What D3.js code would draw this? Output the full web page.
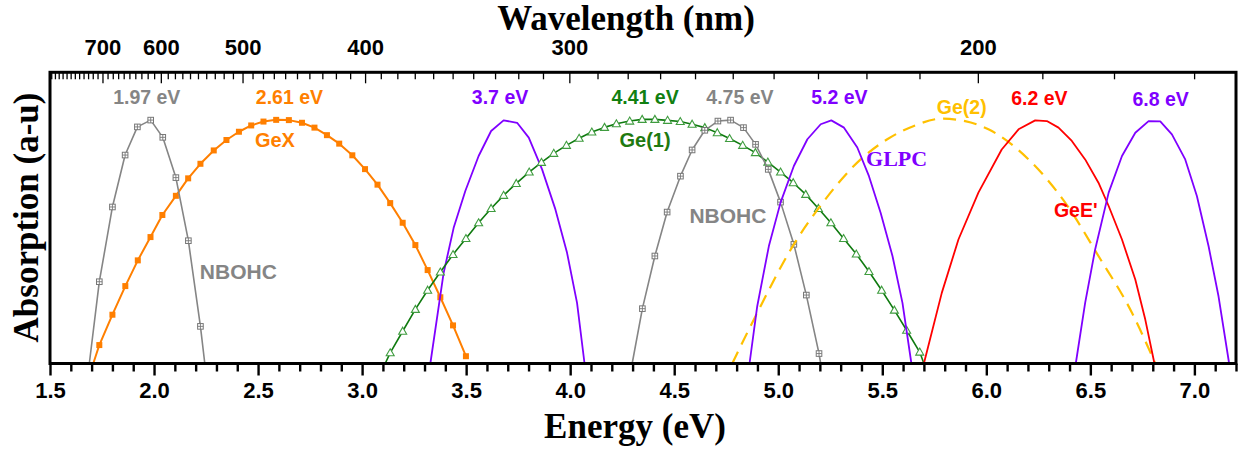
<!DOCTYPE html>
<html>
<head>
<meta charset="utf-8">
<script src="https://cdn.jsdelivr.net/npm/d3@7"></script>
<style>
  html, body { margin: 0; padding: 0; background: #fff; }
  svg { display: block; }
</style>
</head>
<body>
<svg id="chart" width="1241" height="450"></svg>
<script>
// ---------------- DATA ----------------
const energyDomain = [1.5, 7.2];
const absorbDomain = [0, 1.2];
const energyMajorTicks = [1.5, 2.0, 2.5, 3.0, 3.5, 4.0, 4.5, 5.0, 5.5, 6.0, 6.5, 7.0];
const wavelengthDomain = [823.4, 165.2];
const wavelengthMajorTicks = [700, 600, 500, 400, 300, 200];

// [energy (eV), absorption (a.u.)]
const nbohc197 = [[1.689,0],[1.737,0.337],[1.800,0.645],[1.861,0.859],[1.920,0.975],[1.984,1.003],[2.042,0.932],[2.105,0.766],[2.165,0.506],[2.223,0.153],[2.244,0]];
const gex261 = [[1.708,0],[1.737,0.076],[1.800,0.201],[1.862,0.319],[1.922,0.425],[1.983,0.521],[2.040,0.612],[2.105,0.691],[2.164,0.763],[2.223,0.823],[2.287,0.878],[2.348,0.921],[2.408,0.955],[2.467,0.981],[2.526,0.997],[2.587,1.004],[2.648,1.003],[2.711,0.992],[2.771,0.972],[2.831,0.941],[2.890,0.906],[2.953,0.858],[3.014,0.801],[3.074,0.737],[3.135,0.661],[3.195,0.580],[3.256,0.488],[3.315,0.385],[3.376,0.273],[3.437,0.157],[3.499,0.030]];
const glpc37 = [[3.328,0],[3.392,0.374],[3.440,0.559],[3.496,0.711],[3.560,0.855],[3.620,0.958],[3.680,1.002],[3.745,0.992],[3.801,0.931],[3.865,0.800],[3.929,0.635],[3.985,0.456],[4.033,0.250],[4.069,0]];
const ge1_441 = [[3.111,0],[3.135,0.044],[3.195,0.133],[3.256,0.223],[3.315,0.302],[3.376,0.377],[3.437,0.449],[3.499,0.515],[3.560,0.580],[3.620,0.639],[3.680,0.693],[3.741,0.742],[3.803,0.789],[3.862,0.829],[3.921,0.866],[3.982,0.899],[4.043,0.928],[4.104,0.954],[4.165,0.973],[4.222,0.988],[4.286,0.999],[4.346,1.006],[4.407,1.006],[4.468,1.002],[4.529,0.997],[4.586,0.986],[4.647,0.972],[4.707,0.951],[4.766,0.927],[4.829,0.899],[4.890,0.869],[4.950,0.830],[5.011,0.789],[5.072,0.745],[5.132,0.697],[5.193,0.639],[5.253,0.580],[5.314,0.515],[5.375,0.451],[5.436,0.379],[5.497,0.302],[5.558,0.220],[5.617,0.137],[5.680,0.047],[5.700,0]];
const nbohc475 = [[4.298,0],[4.347,0.226],[4.407,0.443],[4.466,0.624],[4.530,0.772],[4.586,0.880],[4.647,0.961],[4.710,0.999],[4.771,1.003],[4.833,0.972],[4.891,0.903],[4.952,0.800],[5.011,0.665],[5.075,0.491],[5.135,0.282],[5.196,0.041],[5.204,0]];
const glpc52 = [[4.862,0],[4.899,0.236],[4.955,0.484],[5.011,0.663],[5.075,0.814],[5.140,0.924],[5.204,0.986],[5.255,1.002],[5.316,0.972],[5.380,0.890],[5.436,0.772],[5.492,0.621],[5.549,0.443],[5.597,0.250],[5.640,0]];
const ge2 = [[4.779,0],[4.899,0.209],[5.075,0.491],[5.196,0.642],[5.396,0.841],[5.524,0.924],[5.652,0.979],[5.786,1.009],[5.898,0.999],[6.010,0.965],[6.203,0.841],[6.379,0.663],[6.539,0.443],[6.700,0.209],[6.812,0]];
const geE62 = [[5.700,0],[5.786,0.291],[5.866,0.511],[5.962,0.704],[6.074,0.882],[6.155,0.965],[6.235,1.002],[6.291,0.999],[6.347,0.972],[6.411,0.917],[6.475,0.841],[6.539,0.745],[6.588,0.649],[6.652,0.511],[6.716,0.346],[6.764,0.181],[6.808,0]];
const glpc68 = [[6.430,0],[6.475,0.250],[6.523,0.470],[6.588,0.704],[6.652,0.855],[6.716,0.951],[6.780,0.999],[6.836,0.998],[6.892,0.944],[6.956,0.841],[7.012,0.690],[7.068,0.484],[7.116,0.277],[7.167,0]];

// label texts with anchor points in data units [energy, absorption]
const labelTexts = ["1.97 eV","2.61 eV","GeX","NBOHC","3.7 eV","4.41 eV","Ge(1)","4.75 eV","NBOHC","5.2 eV","GLPC","Ge(2)","6.2 eV","GeE'","6.8 eV"];
const labelAt = [[1.965,1.099],[2.651,1.099],[2.581,0.921],[2.405,0.378],[3.663,1.097],[4.360,1.098],[4.360,0.921],[4.816,1.099],[4.758,0.609],[5.294,1.097],[5.569,0.846],[5.882,1.058],[6.255,1.093],[6.430,0.633],[6.838,1.089]];

// ---------------- STYLE ----------------
const W = 1241, H = 450;
const plot = {left: 50, right: 1236, top: 72.3, bottom: 363.5};
const C = {gray: "#858585", grayMk: "#777777", orange: "#ff7f00", purple: "#7f00ff",
           green: "#0f7a0f", greenMk: "#3f9c3f", red: "#ff0000", yellow: "#ffc000",
           darkGreen: "#118011"};
const labelStyle = [
  {c: C.gray, f: "sans", s: 19.5}, {c: C.orange, f: "sans", s: 19.5}, {c: C.orange, f: "sans", s: 20},
  {c: C.gray, f: "sans", s: 21}, {c: C.purple, f: "sans", s: 19.5}, {c: C.darkGreen, f: "sans", s: 19.5},
  {c: "#1f7a10", f: "sans", s: 20}, {c: C.gray, f: "sans", s: 19.5}, {c: C.gray, f: "sans", s: 21},
  {c: C.purple, f: "sans", s: 19.5}, {c: C.purple, f: "serif", s: 22}, {c: C.yellow, f: "sans", s: 19.5},
  {c: C.red, f: "sans", s: 19.5}, {c: C.red, f: "sans", s: 19.5}, {c: C.purple, f: "sans", s: 19.5}
];
const SANS = "'Liberation Sans', Arial, Helvetica, sans-serif";
const SERIF = "'Liberation Serif', 'Times New Roman', serif";

const svg = d3.select("#chart");
const x = d3.scaleLinear().domain(energyDomain).range([plot.left, plot.right]);
const y = d3.scaleLinear().domain(absorbDomain).range([plot.bottom, plot.top]);
const xTop = d3.scaleLinear().domain(wavelengthDomain.map(w => 1 / w)).range([plot.left, plot.right]);

// ---------------- SERIES ----------------
const series = [
  {data: gex261, color: C.orange, width: 2, marker: "fsquare", mk: C.orange},
  {data: nbohc197, color: C.gray, width: 1.6, marker: "xsquare", mk: C.grayMk},
  {data: glpc37, color: C.purple, width: 1.8},
  {data: ge1_441, color: C.green, width: 1.6, marker: "triangle", mk: C.greenMk},
  {data: nbohc475, color: C.gray, width: 1.6, marker: "xsquare", mk: C.grayMk},
  {data: ge2, color: C.yellow, width: 2.2, dash: "13,8", curve: d3.curveMonotoneX},
  {data: glpc52, color: C.purple, width: 1.8},
  {data: geE62, color: C.red, width: 1.8},
  {data: glpc68, color: C.purple, width: 1.8}
];

const line = d3.line().x(d => x(d[0])).y(d => y(d[1]));
const g = svg.append("g");
series.forEach(s => {
  g.append("path")
    .attr("d", line.curve(s.curve || d3.curveLinear)(s.data))
    .attr("fill", "none")
    .attr("stroke", s.color)
    .attr("stroke-width", s.width)
    .attr("stroke-dasharray", s.dash || null)
    .attr("stroke-linejoin", "round");
  if (s.marker) {
    const pts = s.data.filter(d => d[1] > 0);
    const mg = g.append("g");
    pts.forEach(d => {
      const px = x(d[0]), py = y(d[1]);
      if (s.marker === "fsquare") {
        mg.append("rect").attr("x", px - 3).attr("y", py - 3).attr("width", 6).attr("height", 6)
          .attr("fill", s.mk);
      } else if (s.marker === "xsquare") {
        mg.append("rect").attr("x", px - 2.8).attr("y", py - 2.8).attr("width", 5.6).attr("height", 5.6)
          .attr("fill", "#fff").attr("stroke", s.mk).attr("stroke-width", 1);
        mg.append("path").attr("d", `M${px - 2.8},${py}H${px + 2.8}M${px},${py - 2.8}V${py + 2.8}`)
          .attr("stroke", s.mk).attr("stroke-width", 0.9);
      } else if (s.marker === "triangle") {
        mg.append("path").attr("d", `M${px},${py - 4}L${px + 4},${py + 3}L${px - 4},${py + 3}Z`)
          .attr("fill", "#fff").attr("stroke", s.mk).attr("stroke-width", 1.1);
      }
    });
  }
});

// ---------------- AXES ----------------
const minorE = d3.range(15, 73).map(v => v / 10).filter(v => !energyMajorTicks.some(m => Math.abs(m - v) < 1e-9));
const bottomMajor = d3.axisBottom(x).tickValues(energyMajorTicks).tickSize(12).tickPadding(7)
  .tickFormat(d3.format(".1f"));
const bottomMinor = d3.axisBottom(x).tickValues(minorE).tickSize(8).tickFormat("");
const gbMin = svg.append("g").attr("transform", `translate(0,${plot.bottom})`).call(bottomMinor);
const gbMaj = svg.append("g").attr("transform", `translate(0,${plot.bottom})`).call(bottomMajor);
[gbMin, gbMaj].forEach(a => {
  a.select(".domain").remove();
  a.selectAll(".tick line").attr("stroke", "#000").attr("stroke-width", 2.4);
});
gbMaj.selectAll(".tick text").attr("font-family", SANS).attr("font-weight", "bold")
  .attr("font-size", 22).attr("fill", "#000");

const minorW = d3.range(170, 830, 10).filter(v => !wavelengthMajorTicks.includes(v) && v <= 823);
const topMajor = d3.axisTop(xTop).tickValues(wavelengthMajorTicks.map(w => 1 / w))
  .tickSize(-11).tickPadding(17).tickFormat(d => Math.round(1 / d));
const topMinor = d3.axisTop(xTop).tickValues(minorW.map(w => 1 / w)).tickSize(-7).tickFormat("");
const gtMin = svg.append("g").attr("transform", `translate(0,${plot.top})`).call(topMinor);
const gtMaj = svg.append("g").attr("transform", `translate(0,${plot.top})`).call(topMajor);
[gtMin, gtMaj].forEach(a => {
  a.select(".domain").remove();
  a.selectAll(".tick line").attr("stroke", "#000").attr("stroke-width", 1.3);
});
gtMaj.selectAll(".tick text").attr("font-family", SANS).attr("font-weight", "bold")
  .attr("font-size", 22).attr("fill", "#000");

// frame
svg.append("rect")
  .attr("x", plot.left).attr("y", plot.top)
  .attr("width", plot.right - plot.left).attr("height", plot.bottom - plot.top)
  .attr("fill", "none").attr("stroke", "#000").attr("stroke-width", 3);

// ---------------- TITLES ----------------
svg.append("text").attr("x", 626).attr("y", 29.5).attr("text-anchor", "middle")
  .attr("font-family", SERIF).attr("font-weight", "bold").attr("font-size", 35).text("Wavelength (nm)");
svg.append("text").attr("x", 635).attr("y", 437.5).attr("text-anchor", "middle")
  .attr("font-family", SERIF).attr("font-weight", "bold").attr("font-size", 35).text("Energy (eV)");
svg.append("text").attr("transform", "translate(37.5,217.5) rotate(-90)").attr("text-anchor", "middle")
  .attr("font-family", SERIF).attr("font-weight", "bold").attr("font-size", 35).text("Absorption (a-u)");

// ---------------- LABELS ----------------
labelTexts.forEach((t, i) => {
  const st = labelStyle[i];
  svg.append("text")
    .attr("x", x(labelAt[i][0])).attr("y", y(labelAt[i][1]))
    .attr("dy", "0.36em")
    .attr("text-anchor", "middle")
    .attr("font-family", st.f === "serif" ? SERIF : SANS)
    .attr("font-weight", "bold")
    .attr("font-size", st.s)
    .attr("fill", st.c)
    .text(t);
});
</script>
</body>
</html>
